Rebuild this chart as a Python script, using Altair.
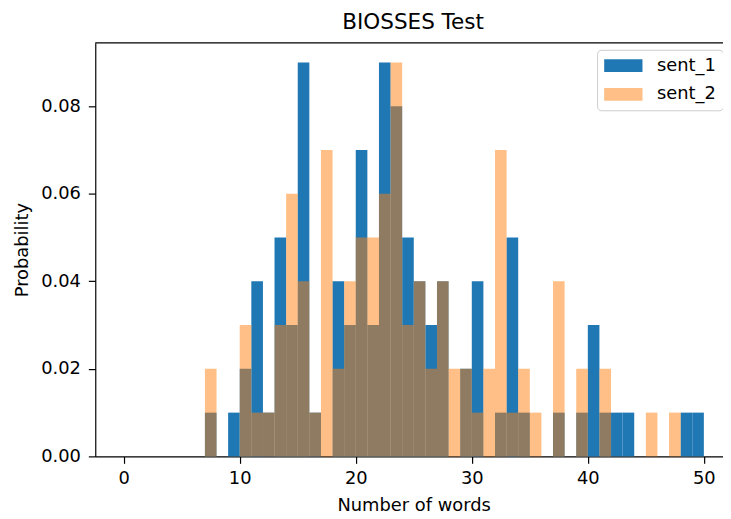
import altair as alt
import pandas as pd

# bin left edges (bin width 1, range 0..50)
bins = list(range(50))

sent_1 = [0, 0, 0, 0, 0, 0, 0, 0.01, 0, 0.01,
          0.02, 0.04, 0.01, 0.05, 0.03, 0.09, 0.01, 0, 0.04, 0.03,
          0.07, 0.03, 0.09, 0.08, 0.05, 0.04, 0.03, 0.04, 0, 0.02,
          0.04, 0, 0.01, 0.05, 0.01, 0, 0, 0.01, 0, 0.01,
          0.03, 0.01, 0.01, 0.01, 0, 0, 0, 0, 0.01, 0.01]

sent_2 = [0, 0, 0, 0, 0, 0, 0, 0.02, 0, 0,
          0.03, 0.01, 0.01, 0.03, 0.06, 0.04, 0.01, 0.07, 0.02, 0.04,
          0.05, 0.05, 0.06, 0.09, 0.03, 0.04, 0.02, 0.04, 0.02, 0.02,
          0.01, 0.02, 0.07, 0.01, 0.02, 0.01, 0, 0.04, 0, 0.02,
          0, 0.02, 0, 0, 0, 0.01, 0, 0.01, 0, 0]

series_names = ["sent_1", "sent_2"]
x_ticks = [0, 10, 20, 30, 40, 50]
y_ticks = [0.0, 0.02, 0.04, 0.06, 0.08]
chart_title = "BIOSSES Test"

rows = []
for name, vals in zip(series_names, [sent_1, sent_2]):
    for b, v in zip(bins, vals):
        if v > 0:
            rows.append({"start": b, "end": b + 1, "value": v, "series": name})
df = pd.DataFrame(rows)

FONT = "DejaVu Sans"
W, H = 633, 417

x_scale = alt.Scale(domain=[-2.45, 51.65], nice=False, zero=False)
y_scale = alt.Scale(domain=[0, 0.0945], nice=False, zero=False)

bars = alt.Chart(df).mark_rect(strokeWidth=0).encode(
    x=alt.X("start:Q", scale=x_scale,
            axis=alt.Axis(values=x_ticks, format="d", title="Number of words",
                          titleX=321, titleY=55, titleBaseline="alphabetic",
                          titleAlign="center")),
    x2="end:Q",
    y=alt.Y("value:Q", scale=y_scale,
            axis=alt.Axis(values=y_ticks, format=".2f", title="Probability",
                          titleX=-68, titleY=208.5, titleAngle=-90,
                          titleBaseline="alphabetic", titleAlign="center")),
    y2=alt.datum(0),
    color=alt.Color("series:N",
                    scale=alt.Scale(domain=series_names, range=["#1f77b4", "#ff7f0e"]),
                    legend=alt.Legend(title=None, orient="none", legendX=506, legendY=7,
                                      symbolType="M-1,-0.337H1V0.337H-1Z",
                                      symbolSize=1490, symbolStrokeWidth=0,
                                      clipHeight=18,
                                      labelOffset=14.4, rowPadding=11, padding=7,
                                      strokeColor="#cccccc", fillColor="white",
                                      cornerRadius=4, labelFontSize=18, labelFont=FONT,
                                      labelColor="#000000")),
    opacity=alt.Opacity("series:N",
                        scale=alt.Scale(domain=series_names, range=[1.0, 0.5])),
)

top_spine = alt.Chart(pd.DataFrame({"v": [0]})).mark_rule(
    color="#000000", strokeWidth=1.2
).encode(y=alt.value(0), x=alt.value(0), x2=alt.value(W))

title_text = alt.Chart(pd.DataFrame({"t": [chart_title]})).mark_text(
    font=FONT, fontSize=21.7, color="#000000", baseline="alphabetic", align="center"
).encode(text="t:N", x=alt.value(W / 2 + 4), y=alt.value(-13.7))

chart = alt.layer(bars, top_spine, title_text).properties(
    width=W, height=H,
    autosize=alt.AutoSizeParams(type="none"),
    padding={"left": 88, "top": 33, "right": 0, "bottom": 62},
).configure_view(stroke=None).configure_axis(
    grid=False, domainColor="#000000", domainWidth=1.2, tickColor="#000000",
    tickWidth=1.2, tickSize=7, labelFont=FONT, labelFontSize=18, labelColor="#000000",
    titleFont=FONT, titleFontSize=18, titleFontWeight="normal", titleColor="#000000",
).configure_axisX(labelPadding=6).configure_axisY(labelPadding=8)

chart.save("out.html", embed_options={"renderer": "svg", "actions": False})
